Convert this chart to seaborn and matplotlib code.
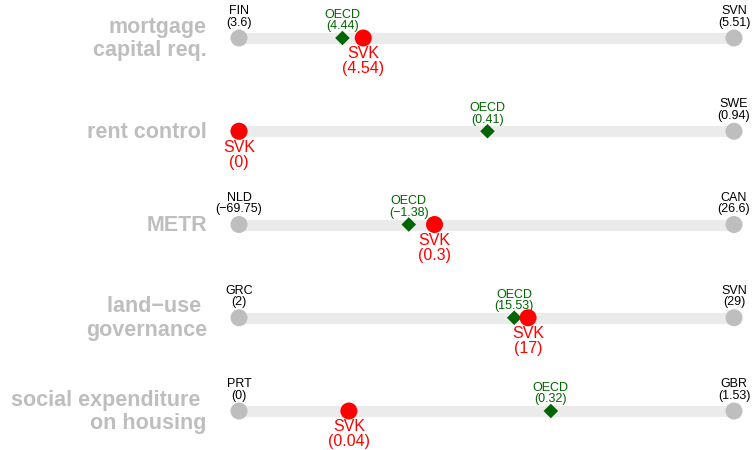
import matplotlib
matplotlib.use("Agg")
import matplotlib.pyplot as plt
import seaborn as sns
import pandas as pd

# indicators (top to bottom)
indicators = ["mortgage\ncapital req.", "rent control", "METR",
              "land\u2212use \ngovernance", "social expenditure \non housing"]
min_country = ["FIN", "", "NLD", "GRC", "PRT"]
min_value = ["3.6", "", "\u221269.75", "2", "0"]
max_country = ["SVN", "SWE", "CAN", "SVN", "GBR"]
max_value = ["5.51", "0.94", "26.6", "29", "1.53"]
oecd_value = ["4.44", "0.41", "\u22121.38", "15.53", "0.32"]
svk_value = ["4.54", "0", "0.3", "17", "0.04"]
# position on the normalised 0-1 scale
oecd_pos = [0.209, 0.502, 0.343, 0.556, 0.63]
svk_pos = [0.251, 0.0, 0.395, 0.584, 0.222]

df = pd.DataFrame({"row": range(len(indicators)), "oecd": oecd_pos, "svk": svk_pos})

sns.set_style("white")
plt.rcParams["font.family"] = ["Liberation Sans", "DejaVu Sans"]

fig = plt.figure(figsize=(7.54, 4.5), dpi=100)
ax = fig.add_axes([0, 0, 1, 1])

grey_bar = "#ebebeb"
grey_dot = "#bebebe"
green = "#006400"
red = "#ff0000"

ax.hlines(df["row"], 0, 1, color=grey_bar, lw=8, zorder=1)
ends = pd.DataFrame({"row": list(df["row"]) * 2, "x": [0] * 5 + [1] * 5})
sns.scatterplot(data=ends, x="x", y="row", color=grey_dot, s=150, edgecolor="none",
                ax=ax, zorder=2, legend=False)
sns.scatterplot(data=df, x="oecd", y="row", color=green, marker="D", s=55,
                edgecolor="none", ax=ax, zorder=3, legend=False)
sns.scatterplot(data=df, x="svk", y="row", color=red, s=150, edgecolor="none",
                ax=ax, zorder=4, legend=False)

for i in range(len(indicators)):
    ax.text(-0.065, i + 0.01, indicators[i], ha="right", va="center", fontsize=15.5,
            fontweight="bold", color=grey_dot, linespacing=1.15)
    if min_country[i]:
        ax.text(0, i - 0.10, f"{min_country[i]}\n({min_value[i]})", ha="center",
                va="bottom", fontsize=9, color="black", linespacing=0.95)
    ax.text(1, i - 0.10, f"{max_country[i]}\n({max_value[i]})", ha="center",
            va="bottom", fontsize=9, color="black", linespacing=0.95)
    ax.text(oecd_pos[i], i - 0.06, f"OECD\n({oecd_value[i]})", ha="center",
            va="bottom", fontsize=9, color=green, linespacing=0.95)
    ax.text(svk_pos[i], i + 0.09, f"SVK\n({svk_value[i]})", ha="center",
            va="top", fontsize=11.5, color=red, linespacing=1.0)

ax.set_xlim(-239 / 495, (754 - 239) / 495)
ax.set_ylim((450 - 38) / 93.25, -38 / 93.25)
ax.axis("off")

fig.savefig("out.png", dpi=100)
